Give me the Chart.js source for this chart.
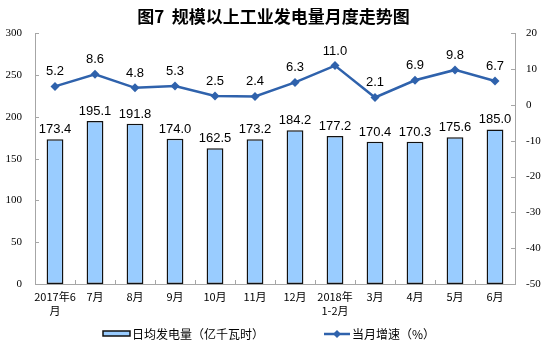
<!DOCTYPE html>
<html>
<head>
<meta charset="utf-8">
<script src="https://cdn.jsdelivr.net/npm/chart.js@4"></script>
<style>
body { margin: 0; background: #fff; }
#wrap { width: 547px; height: 352px; }
</style>
</head>
<body>
<div id="wrap"><canvas id="chart_1"></canvas></div>
<script>
// datos
var meses = [["2017年6", "月"], "7月", "8月", "9月", "10月", "11月", "12月", ["2018年", "1-2月"], "3月", "4月", "5月", "6月"];
var generacionDiaria = [173.4, 195.1, 191.8, 174.0, 162.5, 173.2, 184.2, 177.2, 170.4, 170.3, 175.6, 185.0];
var crecimiento = [5.2, 8.6, 4.8, 5.3, 2.5, 2.4, 6.3, 11.0, 2.1, 6.9, 9.8, 6.7];
var etiquetas = ["日均发电量（亿千瓦时）", "当月增速（%）"];
var titulo = "图7  规模以上工业发电量月度走势图";

var azulBarra = "#99CCFF";
var azulLinea = "#2F62AC";
var gris = "#A6A6A6";
var cjk = "'Noto Sans CJK SC', sans-serif";

// etiquetas de valores, marcas interiores de los ejes y leyenda
var extras = {
  id: "extras",
  afterDatasetsDraw: function(chart) {
    var ctx = chart.ctx;
    ctx.save();
    ctx.font = "13px 'Liberation Sans', Arial, sans-serif";
    ctx.fillStyle = "#000";
    ctx.textAlign = "center";
    ctx.textBaseline = "alphabetic";
    chart.getDatasetMeta(1).data.forEach(function(bar, i) {
      ctx.fillText(generacionDiaria[i].toFixed(1), bar.x, bar.y - 6);
    });
    chart.getDatasetMeta(0).data.forEach(function(p, i) {
      ctx.fillText(crecimiento[i].toFixed(1), p.x, p.y - 11);
    });

    var a = chart.chartArea;
    ctx.strokeStyle = gris;
    ctx.lineWidth = 1;
    chart.scales.y.ticks.forEach(function(t) {
      var y = Math.round(chart.scales.y.getPixelForValue(t.value)) + 0.5;
      ctx.beginPath(); ctx.moveTo(a.left, y); ctx.lineTo(a.left + 4, y); ctx.stroke();
    });
    chart.scales.y1.ticks.forEach(function(t) {
      var y = Math.round(chart.scales.y1.getPixelForValue(t.value)) + 0.5;
      ctx.beginPath(); ctx.moveTo(a.right - 4, y); ctx.lineTo(a.right, y); ctx.stroke();
    });
    var paso = (a.right - a.left) / meses.length;
    for (var i = 1; i < meses.length; i++) {
      var x = Math.round(a.left + paso * i) + 0.5;
      ctx.beginPath(); ctx.moveTo(x, a.bottom); ctx.lineTo(x, a.bottom - 4); ctx.stroke();
    }

    // leyenda
    var yl = 334;
    ctx.fillStyle = azulBarra;
    ctx.fillRect(103, yl - 3, 27, 5);
    ctx.strokeStyle = "#111";
    ctx.lineWidth = 1.5;
    ctx.strokeRect(103, yl - 3, 27, 5);
    ctx.strokeStyle = azulLinea;
    ctx.lineWidth = 2.5;
    ctx.beginPath(); ctx.moveTo(324, yl); ctx.lineTo(350, yl); ctx.stroke();
    ctx.fillStyle = azulLinea;
    ctx.beginPath(); ctx.moveTo(337, yl - 4); ctx.lineTo(341, yl); ctx.lineTo(337, yl + 4); ctx.lineTo(333, yl); ctx.closePath(); ctx.fill();
    ctx.fillStyle = "#000";
    ctx.font = "12px " + cjk;
    ctx.textAlign = "left";
    ctx.textBaseline = "middle";
    ctx.fillText(etiquetas[0], 132, yl);
    ctx.fillText(etiquetas[1], 352, yl);
    ctx.restore();
  }
};

var ctx = document.getElementById("chart_1").getContext("2d");
var chart = new Chart(ctx, {
  data: {
    labels: meses,
    datasets: [
      {
        type: "line",
        label: etiquetas[1],
        data: crecimiento,
        yAxisID: "y1",
        borderColor: azulLinea,
        backgroundColor: azulLinea,
        borderWidth: 2.5,
        pointStyle: "rectRot",
        pointRadius: 4.5,
        pointBackgroundColor: azulLinea,
        pointBorderWidth: 0,
        tension: 0,
        order: 0
      },
      {
        type: "bar",
        label: etiquetas[0],
        data: generacionDiaria,
        yAxisID: "y",
        backgroundColor: azulBarra,
        borderColor: "#111",
        borderWidth: 1.5,
        borderSkipped: false,
        barPercentage: 0.42,
        categoryPercentage: 1,
        order: 1
      }
    ]
  },
  options: {
    responsive: true,
    maintainAspectRatio: false,
    animation: false,
    layout: { padding: { left: 0, right: 0, top: 0, bottom: 36 } },
    plugins: {
      title: {
        display: true,
        text: titulo,
        color: "#000",
        font: { family: cjk, size: 17, weight: "bold" },
        padding: { top: 6, bottom: 7 }
      },
      tooltip: { enabled: false },
      legend: { display: false }
    },
    scales: {
      x: {
        grid: { display: false, drawTicks: false },
        border: { color: gris, width: 1 },
        ticks: {
          color: "#000",
          font: { family: cjk, size: 11, lineHeight: 1.35 },
          padding: 5,
          maxRotation: 0,
          autoSkip: false
        },
        afterFit: function(s) { s.height = 32; }
      },
      y: {
        position: "left",
        min: 0,
        max: 300,
        grid: { display: false, drawTicks: false },
        border: { color: gris, width: 1 },
        ticks: {
          stepSize: 50,
          color: "#000",
          font: { family: "'Liberation Serif', serif", size: 11 },
          padding: 13
        },
        afterFit: function(s) { s.width = 35; }
      },
      y1: {
        position: "right",
        min: -50,
        max: 20,
        grid: { display: false, drawTicks: false },
        border: { color: gris, width: 1 },
        ticks: {
          stepSize: 10,
          color: "#000",
          font: { family: "'Liberation Serif', serif", size: 11 },
          padding: 11
        },
        afterFit: function(s) { s.width = 32; }
      }
    }
  },
  plugins: [extras]
});
</script>
</body>
</html>
